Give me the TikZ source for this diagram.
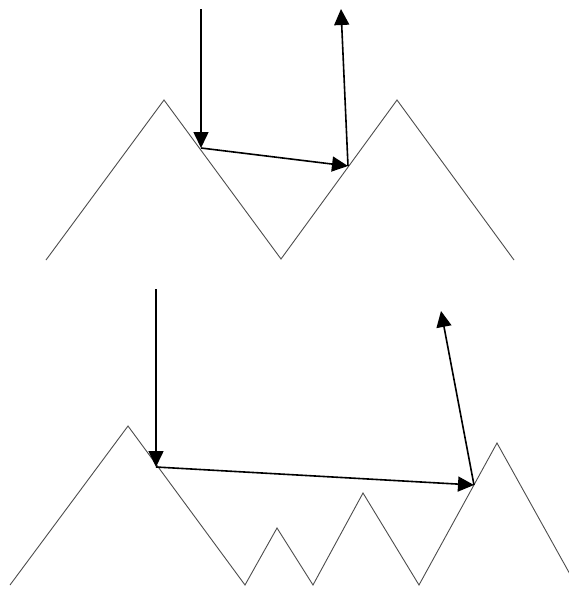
\documentclass[tikz,border=0pt]{standalone}
\usetikzlibrary{arrows.meta}
\begin{document}
\begin{tikzpicture}[x=1pt,y=-1pt,
  surface/.style={line width=0.9pt,draw=black!70,line join=miter},
  ray/.style={line width=1.6pt,draw=black,-{Triangle[length=16pt,width=15pt]}}]
\useasboundingbox (0,0) rectangle (569,590);
% top surface
\coordinate (t0) at (46,260);
\coordinate (t1) at (164,100);
\coordinate (t2) at (281,259);
\coordinate (t3) at (397,100);
\coordinate (t4) at (514,260);
\draw[surface] (t0) -- (t1) -- (t2) -- (t3) -- (t4);
\coordinate (ts) at (201,9);
\coordinate (th1) at (201,148);
\coordinate (th2) at (348,166);
\coordinate (te) at (341,9);
\draw[ray] (ts) -- (th1);
\draw[ray] (th1) -- (th2);
\draw[ray] (th2) -- (te);
% bottom surface
\coordinate (b0) at (10,585);
\coordinate (b1) at (128,426);
\coordinate (b2) at (245,585);
\coordinate (b3) at (277,528);
\coordinate (b4) at (313,585);
\coordinate (b5) at (363,493);
\coordinate (b6) at (419,585);
\coordinate (b7) at (497,443);
\coordinate (b8) at (571,576);
\draw[surface] (b0) -- (b1) -- (b2) -- (b3) -- (b4) -- (b5) -- (b6) -- (b7) -- (b8);
\coordinate (bs) at (156,289);
\coordinate (bh1) at (156,467);
\coordinate (bh2) at (474,485);
\coordinate (be) at (441,311);
\draw[ray] (bs) -- (bh1);
\draw[ray] (bh1) -- (bh2);
\draw[ray] (bh2) -- (be);
\end{tikzpicture}
\end{document}
